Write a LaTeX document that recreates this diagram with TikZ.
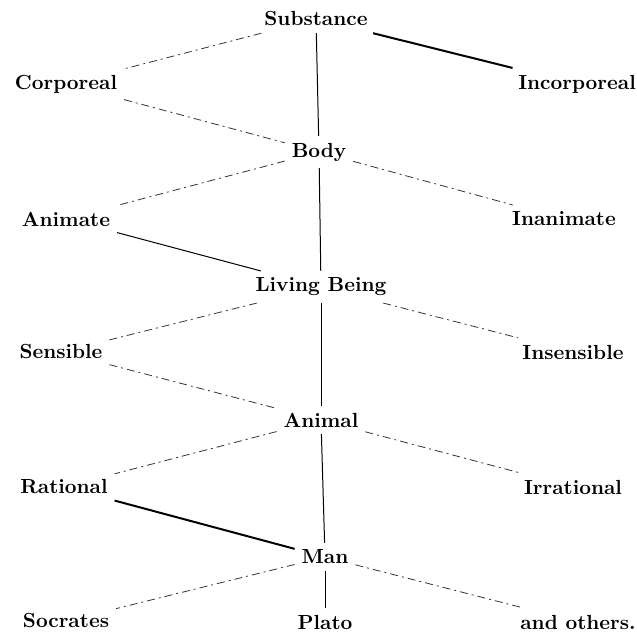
\documentclass[tikz,border=0pt]{standalone}
\usepackage{tikz}

\begin{document}
\begin{tikzpicture}[x=0.5pt,y=-0.5pt,
  term/.style={font=\fontsize{10.2}{12}\selectfont\bfseries, inner sep=1.5pt, outer sep=2pt},
  branch/.style={black!80, line width=0.4pt, dash pattern=on 4pt off 2pt on 1pt off 2pt},
  stem/.style={black, line width=0.5pt},
  strong/.style={black, line width=1pt}]
\useasboundingbox (0,0) rectangle (637,635);
\node[term] (sub) at (316,19) {Substance};
\node[term] (cor) at (66,84) {Corporeal};
\node[term] (inc) at (577,84) {Incorporeal};
\node[term] (body) at (319,152) {Body};
\node[term] (anima) at (66,219) {Animate};
\node[term] (inan) at (564,219) {Inanimate};
\node[term] (liv) at (321,287) {Living Being};
\node[term] (sens) at (61,352) {Sensible};
\node[term] (insens) at (573,352) {Insensible};
\node[term] (anim) at (321,420) {Animal};
\node[term] (rat) at (64,487) {Rational};
\node[term] (irr) at (573,487) {Irrational};
\node[term] (man) at (325,557) {Man};
\node[term] (soc) at (66,621) {Socrates};
\node[term] (plato) at (325,622) {Plato};
\node[term] (oth) at (578,622) {and others.};
\draw[branch] (sub) -- (cor);
\draw[strong] (sub) -- (inc);
\draw[stem] (sub) -- (body);
\draw[branch] (cor) -- (body);
\draw[branch] (body) -- (anima);
\draw[branch] (body) -- (inan);
\draw[stem] (body) -- (liv);
\draw[stem] (anima) -- (liv);
\draw[branch] (liv) -- (sens);
\draw[branch] (liv) -- (insens);
\draw[stem] (liv) -- (anim);
\draw[branch] (sens) -- (anim);
\draw[branch] (anim) -- (rat);
\draw[branch] (anim) -- (irr);
\draw[stem] (anim) -- (man);
\draw[strong] (rat) -- (man);
\draw[branch] (man) -- (soc);
\draw[stem] (man) -- (plato);
\draw[branch] (man) -- (oth);
\end{tikzpicture}
\end{document}
